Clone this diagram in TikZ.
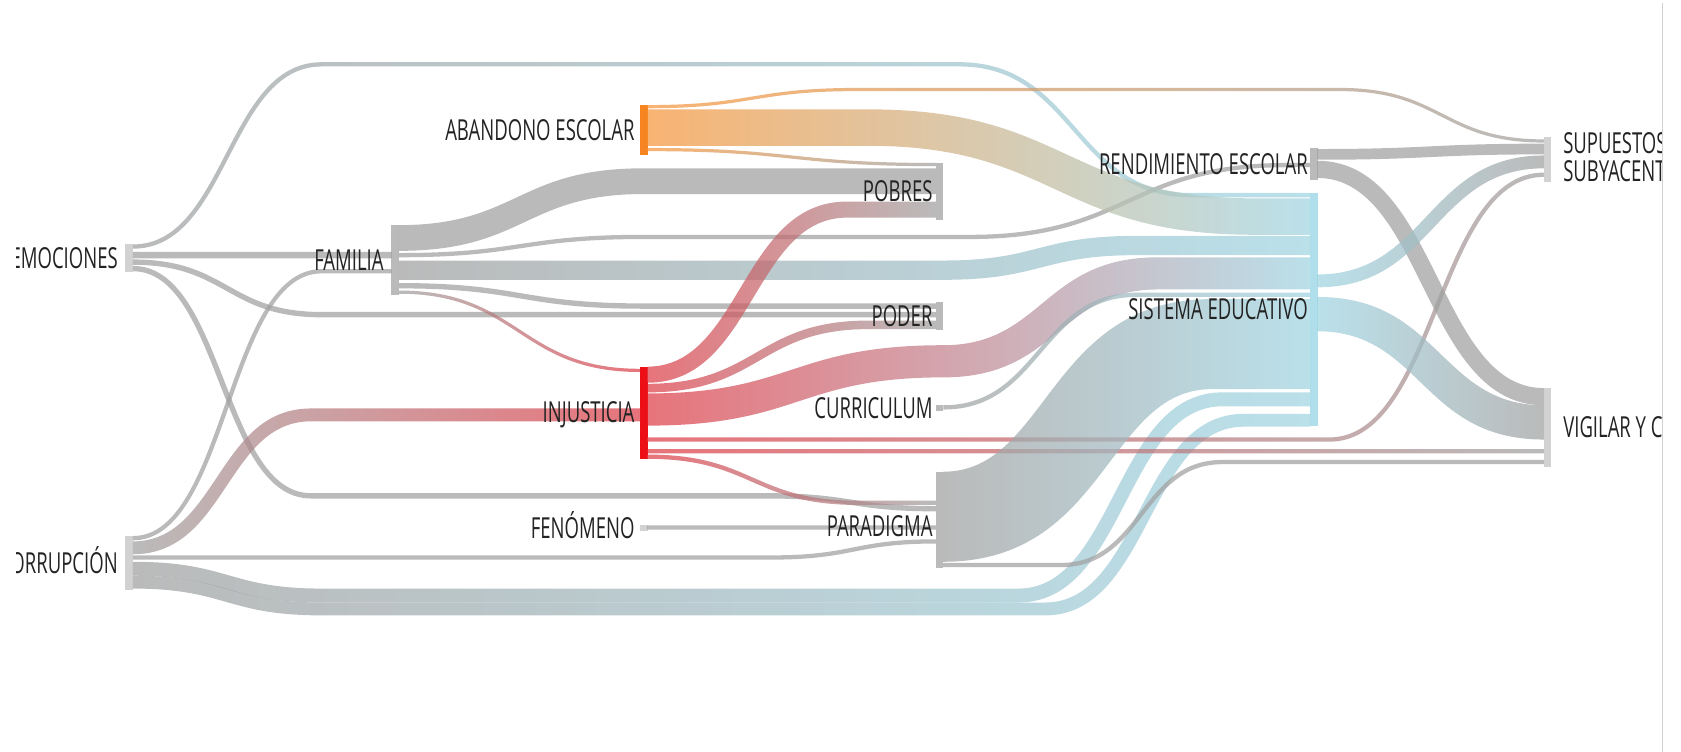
\documentclass[tikz,border=0pt]{standalone}
\usepackage{fontspec}
\usepackage{tikz}
\usetikzlibrary{positioning,calc}

\newfontfamily\lblfont[FakeStretch=0.64]{Open Sans}

\definecolor{txtc}{RGB}{35,35,35}
\definecolor{lgray}{RGB}{160,160,160}
\definecolor{lblue}{RGB}{160,212,226}
\definecolor{lred}{RGB}{222,62,72}
\definecolor{lorng}{RGB}{245,150,60}
\definecolor{bgray}{RGB}{186,186,186}
\definecolor{bpale}{RGB}{210,210,210}
\definecolor{bblue}{RGB}{176,222,235}
\definecolor{bred}{RGB}{236,16,22}
\definecolor{borng}{RGB}{246,132,32}

% horizontal shift of a band edge in a bend (keeps the band thick on slopes)
\newcommand{\bendx}[4]{((#4)-(#2))/(abs((#4)-(#2))+0.01)*\n0*tan(0.5*atan2(2*abs((#4)-(#2)),(#3)-(#1)+0.01))/0.75}
% band: source, offset, target, offset, width, three points of the top edge
\newcommand{\flowband}[9][]{%
  \shade[lnk,#1] let
    \p0=($(#2.north east)+(0,#3)$), \p1=(#7), \p2=(#8), \p3=(#9),
    \p4=($(#4.north west)+(0,#5)$),
    \n0={#6/2},
    \n1={\bendx{\x0}{\y0}{\x1}{\y1}}, \n2={\bendx{\x1}{\y1}{\x2}{\y2}},
    \n3={\bendx{\x2}{\y2}{\x3}{\y3}}, \n4={\bendx{\x3}{\y3}{\x4}{\y4}}
  in (\x0,\y0)
    .. controls ({((\x0)+(\x1))/2-\n1},\y0) and ({((\x0)+(\x1))/2-\n1},\y1) .. (\x1,\y1)
    .. controls ({((\x1)+(\x2))/2-\n2},\y1) and ({((\x1)+(\x2))/2-\n2},\y2) .. (\x2,\y2)
    .. controls ({((\x2)+(\x3))/2-\n3},\y2) and ({((\x2)+(\x3))/2-\n3},\y3) .. (\x3,\y3)
    .. controls ({((\x3)+(\x4))/2-\n4},\y3) and ({((\x3)+(\x4))/2-\n4},\y4) .. (\x4,\y4)
    -- (\x4,{\y4-#6})
    .. controls ({((\x3)+(\x4))/2+\n4},{\y4-#6}) and ({((\x3)+(\x4))/2+\n4},{\y3-#6}) .. (\x3,{\y3-#6})
    .. controls ({((\x2)+(\x3))/2+\n3},{\y3-#6}) and ({((\x2)+(\x3))/2+\n3},{\y2-#6}) .. (\x2,{\y2-#6})
    .. controls ({((\x1)+(\x2))/2+\n2},{\y2-#6}) and ({((\x1)+(\x2))/2+\n2},{\y1-#6}) .. (\x1,{\y1-#6})
    .. controls ({((\x0)+(\x1))/2+\n1},{\y1-#6}) and ({((\x0)+(\x1))/2+\n1},{\y0-#6}) .. (\x0,{\y0-#6})
    -- cycle;}

\begin{document}
\begin{tikzpicture}[x=1pt, y=-1pt]
% -------------------------------------------------
% Styles
\tikzset{
  blk/.style={draw=none, minimum width=7pt, inner sep=0pt, outer sep=0pt, anchor=north west},
  lbl/.style={font=\lblfont\fontsize{27}{27}\selectfont, text=txtc, inner sep=0pt,
              text height=19pt, text depth=0pt},
  lblr/.style={font=\lblfont\fontsize{27}{27}\selectfont, text=txtc, inner sep=0pt, align=left},
  lnk/.style={opacity=0.72},
  gray2gray/.style={left color=lgray, right color=lgray},
  gray2blue/.style={left color=lgray, right color=lblue},
  gray2red/.style={left color=lgray, right color=lred},
  orng2gray/.style={left color=lorng, right color=lgray},
  orng2blue/.style={left color=lorng, right color=lblue},
  red2gray/.style={left color=lred, right color=lgray},
  red2blue/.style={left color=lred, right color=lblue},
  blue2gray/.style={left color=lblue, right color=lgray}
}
\useasboundingbox (0,0) rectangle (1568,701);

\begin{scope}
\clip (15,0) rectangle (1550,701);
% -------------------------------------------------
% Bars
\node [blk, fill=bpale, minimum height=26pt] (emo) at (117,228) {};
\node [blk, fill=bpale, minimum height=50pt] (corr) at (117,500) {};
\node [blk, fill=bgray, minimum height=65pt] (fam) at (365,210) {};
\node [blk, fill=borng, minimum height=47pt] (aba) at (597,98) {};
\node [blk, fill=bred, minimum height=86pt] (inj) at (597,342) {};
\node [blk, fill=bpale, minimum height=5pt] (fen) at (597,490) {};
\node [blk, fill=bgray, minimum height=53pt] (pob) at (873,152) {};
\node [blk, fill=bgray, minimum height=26pt] (pod) at (873,282) {};
\node [blk, fill=bgray, minimum height=5pt] (cur) at (873,378) {};
\node [blk, fill=bgray, minimum height=90pt] (par) at (873,440) {};
\node [blk, fill=bgray, minimum height=30pt] (ren) at (1222,138) {};
\node [blk, fill=bblue, minimum height=217pt] (sis) at (1222,180) {};
\node [blk, fill=bpale, minimum height=42pt] (sup) at (1440,128) {};
\node [blk, fill=bpale, minimum height=74pt] (vig) at (1440,362) {};

% -------------------------------------------------
% Flows
\flowband[gray2blue]{emo}{0}{sis}{0}{4}{300,58}{895,58}{1110,180}
\flowband[gray2gray]{emo}{7}{fam}{25}{6}{124,235}{365,235}{365,235}
\flowband[gray2gray]{emo}{14}{pod}{9}{5}{300,291}{873,291}{873,291}
\flowband[gray2gray]{emo}{20}{par}{32}{5}{290,460}{715,460}{873,472}
\flowband[gray2gray]{corr}{0}{fam}{41}{4}{300,251}{365,251}{365,251}
\flowband[gray2red]{corr}{5}{inj}{39}{12}{290,381}{597,381}{597,381}
\flowband[gray2gray]{corr}{18}{par}{63}{4}{124,518}{720,518}{873,503}
\flowband[gray2blue]{corr}{24}{sis}{186}{13}{300,549}{950,549}{1140,366}
\flowband[gray2blue]{corr}{37}{sis}{206}{12}{300,562}{975,562}{1160,386}
\flowband[gray2gray]{fam}{0}{pob}{5}{24}{372,210}{600,157}{873,157}
\flowband[gray2gray]{fam}{26}{ren}{14}{4}{600,219}{905,219}{1200,152}
\flowband[gray2blue]{fam}{33}{sis}{40}{18}{372,243}{880,243}{1060,220}
\flowband[gray2gray]{fam}{54}{pod}{1}{5}{372,264}{600,283}{873,283}
\flowband[gray2red]{fam}{61}{inj}{2}{3}{372,271}{597,344}{597,344}
\flowband[orng2gray]{aba}{0}{sup}{2}{3}{800,82}{1250,82}{1440,130}
\flowband[orng2blue]{aba}{4}{sis}{5}{34}{810,102}{1170,185}{1222,185}
\flowband[orng2gray]{aba}{40}{pob}{0}{3}{604,138}{873,152}{873,152}
\flowband[red2gray]{inj}{0}{pob}{36}{15}{604,342}{790,188}{873,188}
\flowband[red2gray]{inj}{16}{pod}{17}{8}{604,358}{810,299}{873,299}
\flowband[red2blue]{inj}{25}{sis}{60}{30}{880,322}{1080,240}{1222,240}
\flowband[red2gray]{inj}{66}{sup}{33}{4}{1240,408}{1440,161}{1440,161}
\flowband[red2gray]{inj}{77}{vig}{57}{4}{604,419}{1440,419}{1440,419}
\flowband[red2gray]{inj}{82}{par}{27}{4}{604,424}{800,467}{873,467}
\flowband[gray2gray]{fen}{0}{par}{50}{4}{604,490}{873,490}{873,490}
\flowband[gray2blue]{cur}{0}{sis}{93}{4}{880,378}{1060,273}{1222,273}
\flowband[gray2blue]{par}{0}{sis}{99}{84}{880,440}{1130,279}{1222,279}
\flowband[gray2gray]{par}{85}{vig}{67}{4}{990,525}{1140,429}{1440,429}
\flowband[gray2gray]{ren}{1}{sup}{6}{10}{1229,139}{1440,134}{1440,134}
\flowband[gray2gray]{ren}{12}{vig}{0}{16}{1229,150}{1440,362}{1440,362}
\flowband[blue2gray]{sis}{76}{sup}{17}{12}{1229,256}{1440,145}{1440,145}
\flowband[blue2gray]{sis}{97}{vig}{16}{32}{1229,277}{1440,378}{1440,378}

% -------------------------------------------------
% Labels
\node [lbl, left=7pt of emo] (emo-l) {EMOCIONES};
\node [lbl, left=7pt of corr] (corr-l) {CORRUPCIÓN};
\node [lbl, left=7pt of fam] (fam-l) {FAMILIA};
\node [lbl, left=5pt of aba] (aba-l) {ABANDONO ESCOLAR};
\node [lbl, left=5pt of inj] (inj-l) {INJUSTICIA};
\node [lbl, left=5pt of fen] (fen-l) {FENÓMENO};
\node [lbl, left=3pt of pob] (pob-l) {POBRES};
\node [lbl, left=3pt of pod] (pod-l) {PODER};
\node [lbl, left=3pt of cur] (cur-l) {CURRICULUM};
\node [lbl, left=3pt of par, yshift=-6pt] (par-l) {PARADIGMA};
\node [lbl, left=2pt of ren] (ren-l) {RENDIMIENTO ESCOLAR};
\node [lbl, left=2pt of sis] (sis-l) {SISTEMA EDUCATIVO};
\node [lblr, right=11pt of sup, yshift=2.4pt] (sup-l) {SUPUESTOS\\SUBYACENTES};
\node [lbl, right=11pt of vig] (vig-l) {VIGILAR Y CASTIGAR};
\end{scope}

% right edge of the view
\draw [black!18, line width=1pt] (1551,3) -- (1551,701);
\end{tikzpicture}
\end{document}
